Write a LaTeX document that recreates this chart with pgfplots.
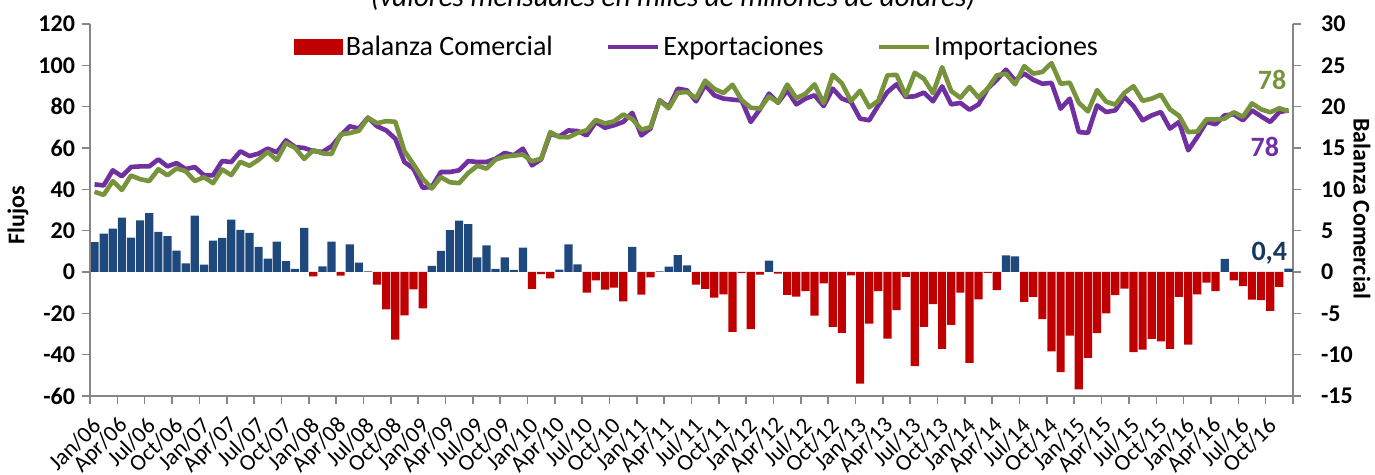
\documentclass[border=0pt]{standalone}
\usepackage{pgfplots}
\pgfplotsset{compat=1.18}
\usepackage{pgfplotstable}
\usepackage{fontspec}
\setmainfont{Carlito}

\definecolor{barblue}{HTML}{1F497D}
\definecolor{barred}{HTML}{C00000}
\definecolor{expo}{HTML}{7030A0}
\definecolor{impo}{HTML}{77933C}
\definecolor{axgray}{HTML}{868686}
\definecolor{lblblue}{HTML}{17375E}

% monthly flows, Jan/06 = 0
\pgfplotstableread{
i X M
0 42.4 38.8
1 41.9 37.3
2 49.2 44.0
3 46.3 39.7
4 50.8 46.7
5 51.1 44.9
6 51.1 44.0
7 54.5 49.7
8 51.1 46.8
9 52.7 50.1
10 49.8 48.8
11 50.8 44.0
12 46.8 45.9
13 46.8 43.0
14 53.7 49.6
15 53.2 46.9
16 58.4 53.3
17 56.1 51.4
18 57.3 54.3
19 59.7 58.1
20 57.9 54.2
21 63.7 62.4
22 60.5 60.1
23 60.0 54.7
24 58.5 59.0
25 58.1 57.4
26 60.8 57.1
27 66.1 66.6
28 70.5 67.2
29 69.4 68.3
30 74.7 74.6
31 70.5 72.0
32 68.5 73.0
33 64.5 72.7
34 53.2 58.5
35 50.0 52.1
36 40.8 45.2
37 41.1 40.4
38 48.4 45.9
39 48.4 43.4
40 49.2 43.0
41 53.7 47.9
42 53.2 51.4
43 53.2 50.0
44 54.8 54.4
45 57.6 55.8
46 56.5 56.3
47 59.7 56.8
48 51.6 53.6
49 54.5 54.8
50 66.9 67.7
51 65.6 65.3
52 68.5 65.2
53 68.2 67.3
54 66.1 68.6
55 72.6 73.6
56 69.8 71.9
57 71.0 72.9
58 72.6 76.2
59 77.0 74.0
60 66.1 68.9
61 69.4 70.1
62 83.1 83.0
63 79.8 79.2
64 88.7 86.7
65 87.9 87.1
66 82.6 84.1
67 90.5 92.6
68 85.5 88.6
69 83.9 86.6
70 83.4 90.6
71 83.0 83.2
72 72.6 79.5
73 78.7 79.0
74 86.3 84.9
75 81.9 82.1
76 87.9 90.7
77 81.1 84.1
78 83.9 86.2
79 85.5 90.8
80 80.3 81.7
81 88.7 95.4
82 83.9 91.3
83 82.3 82.7
84 74.2 87.7
85 73.4 79.7
86 80.6 82.9
87 87.1 95.2
88 90.8 95.4
89 84.7 85.3
90 85.0 96.4
91 86.8 93.5
92 82.6 86.5
93 89.8 99.1
94 81.1 87.5
95 81.8 84.3
96 78.5 89.5
97 81.1 84.4
98 88.7 88.8
99 93.0 95.2
100 97.9 95.9
101 92.7 90.8
102 96.0 99.6
103 93.0 96.0
104 91.1 96.8
105 91.5 101.1
106 79.0 91.1
107 83.9 91.6
108 67.7 81.9
109 67.3 77.7
110 80.6 88.0
111 77.4 82.4
112 78.2 81.0
113 84.7 86.7
114 80.2 89.9
115 73.4 82.8
116 75.8 83.9
117 77.4 85.8
118 69.4 78.7
119 72.6 75.6
120 58.9 67.7
121 65.3 68.0
122 72.6 73.9
123 71.5 73.8
124 75.8 74.2
125 76.3 77.3
126 73.4 75.1
127 78.2 81.6
128 75.3 78.7
129 72.6 77.3
130 77.4 79.2
131 78.2 77.8
}\flows

% trade balance (right axis)
\pgfplotstableread{
i B
0 3.60
1 4.63
2 5.25
3 6.58
4 4.15
5 6.25
6 7.13
7 4.85
8 4.33
9 2.58
10 1.05
11 6.83
12 0.88
13 3.80
14 4.13
15 6.33
16 5.08
17 4.73
18 3.03
19 1.63
20 3.68
21 1.30
22 0.38
23 5.33
24 -0.53
25 0.68
26 3.68
27 -0.45
28 3.35
29 1.13
30 0.08
31 -1.53
32 -4.53
33 -8.18
34 -5.25
35 -2.10
36 -4.40
37 0.73
38 2.55
39 5.05
40 6.20
41 5.78
42 1.78
43 3.23
44 0.38
45 1.78
46 0.25
47 2.95
48 -2.03
49 -0.25
50 -0.78
51 0.28
52 3.35
53 0.93
54 -2.50
55 -1.00
56 -2.13
57 -1.90
58 -3.55
59 3.03
60 -2.75
61 -0.65
62 0.08
63 0.65
64 2.03
65 0.80
66 -1.53
67 -2.05
68 -3.10
69 -2.70
70 -7.23
71 -0.15
72 -6.90
73 -0.33
74 1.38
75 -0.20
76 -2.78
77 -2.98
78 -2.30
79 -5.28
80 -1.38
81 -6.65
82 -7.35
83 -0.40
84 -13.50
85 -6.25
86 -2.30
87 -8.06
88 -4.60
89 -0.60
90 -11.40
91 -6.65
92 -3.90
93 -9.30
94 -6.40
95 -2.50
96 -11.00
97 -3.30
98 -0.10
99 -2.20
100 2.00
101 1.90
102 -3.60
103 -3.00
104 -5.70
105 -9.60
106 -12.10
107 -7.70
108 -14.20
109 -10.40
110 -7.40
111 -5.00
112 -2.80
113 -2.00
114 -9.70
115 -9.40
116 -8.10
117 -8.40
118 -9.30
119 -3.00
120 -8.80
121 -2.70
122 -1.30
123 -2.30
124 1.60
125 -1.00
126 -1.70
127 -3.35
128 -3.40
129 -4.70
130 -1.80
131 0.40
}\balance

\pgfplotsset{
  base/.style={
    width=601.5pt, height=186pt, scale only axis,
    at={(0,0)}, anchor=south west,
    xmin=-0.5, xmax=131.5, clip=false,
    axis line style={axgray, line width=0.8pt},
    tick style={axgray, line width=0.8pt},
    tick align=outside, major tick length=4pt,
    /pgf/number format/assume math mode=true,
    yticklabel style={font=\fontsize{12}{14}\selectfont\bfseries},
  },
}

\begin{document}
\begin{tikzpicture}
\useasboundingbox (-45pt,-39.5pt) rectangle (642.5pt,198pt);

% bars on the right axis
\begin{axis}[base,
    axis x line=none, axis y line*=right,
    ymin=-15, ymax=30, ytick={-15,-10,...,30},
    yticklabel style={xshift=6.5pt},
    ybar, bar width=0.9, bar shift=0pt,
]
\addplot[fill=barblue, draw=none, restrict y to domain=0:30] table[x=i, y=B] {\balance};
\addplot[fill=barred, draw=none, restrict y to domain=-15:0] table[x=i, y=B] {\balance};
\node[rotate=-90, font=\fontsize{12}{14}\selectfont\bfseries] at (axis description cs:1.0574,0.503) {Balanza Comercial};
\end{axis}

% flows on the left axis
\begin{axis}[base,
    axis x line*=bottom, axis y line*=left,
    ymin=-60, ymax=120, ytick={-60,-40,...,120},
    xtick={-0.5,2.5,...,131.5},
    xticklabels={Jan/06,Apr/06,Jul/06,Oct/06,Jan/07,Apr/07,Jul/07,Oct/07,
      Jan/08,Apr/08,Jul/08,Oct/08,Jan/09,Apr/09,Jul/09,Oct/09,
      Jan/10,Apr/10,Jul/10,Oct/10,Jan/11,Apr/11,Jul/11,Oct/11,
      Jan/12,Apr/12,Jul/12,Oct/12,Jan/13,Apr/13,Jul/13,Oct/13,
      Jan/14,Apr/14,Jul/14,Oct/14,Jan/15,Apr/15,Jul/15,Oct/15,
      Jan/16,Apr/16,Jul/16,Oct/16,{}},
    xticklabel style={font=\fontsize{11.5}{13}\selectfont, inner sep=0pt,
      xshift=3.5pt, yshift=-9pt, rotate=45, anchor=east},
    ylabel={Flujos},
    ylabel style={font=\fontsize{12}{14}\selectfont\bfseries,
      at={(axis description cs:-0.0599,0.487)}, anchor=center},
    legend columns=3,
    legend style={at={(0.505,0.938)}, anchor=center, draw=none, fill=none,
      font=\fontsize{14}{16}\selectfont,
      nodes={inner sep=1.5pt},
      /tikz/every even column/.append style={column sep=25pt}},
    legend cell align=left,
]
\addlegendimage{legend image code/.code={\fill[barred] (0pt,-3.75pt) rectangle (24pt,3.75pt);}}
\addlegendentry{Balanza Comercial}
\addplot[expo, line width=2.3pt, line join=round,
  legend image code/.code={\draw[expo, line width=2.3pt] (0pt,0pt) -- (25pt,0pt);}]
  table[x=i, y=X] {\flows};
\addlegendentry{Exportaciones}
\addplot[impo, line width=2.3pt, line join=round,
  legend image code/.code={\draw[impo, line width=2.3pt] (0pt,0pt) -- (25pt,0pt);}]
  table[x=i, y=M] {\flows};
\addlegendentry{Importaciones}
\node[font=\fontsize{14}{16}\selectfont\bfseries, text=impo] at (axis cs:129.2,92.7) {78};
\node[font=\fontsize{14}{16}\selectfont\bfseries, text=expo] at (axis cs:128.4,60.3) {78};
\node[font=\fontsize{14}{16}\selectfont\bfseries, text=lblblue] at (axis cs:128.9,9.0) {0,4};
\end{axis}

\node[font=\itshape\fontsize{14.5}{16}\selectfont, anchor=base] at (291.5pt,194.5pt)
  {(valores mensuales en miles de millones de dólares)};
\end{tikzpicture}
\end{document}
